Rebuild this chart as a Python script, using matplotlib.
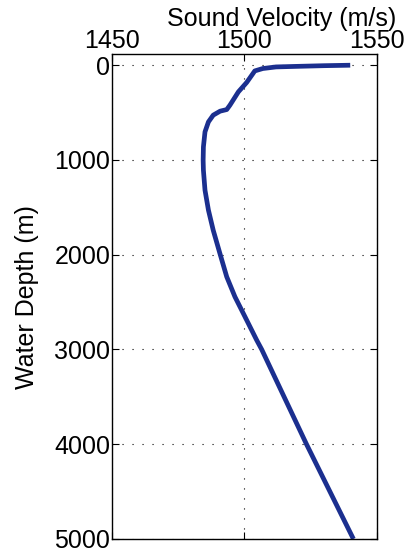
import numpy as np
import matplotlib
matplotlib.use("Agg")
import matplotlib.pyplot as plt

plt.rcParams['font.family'] = ['Liberation Sans', 'DejaVu Sans']

# sound velocity profile
depth = [0, 5, 12, 18, 35, 60, 183, 281, 422, 468, 485, 527, 598, 703, 862,
         1002, 1108, 1319, 1530, 1741, 1994, 2233, 2444, 2655, 2901, 3000,
         4000, 5000]
velocity = [1540.0, 1530.0, 1520.0, 1512.0, 1507.0, 1504.0, 1500.9, 1497.8,
            1494.6, 1493.4, 1490.9, 1488.3, 1486.5, 1485.2, 1484.6,
            1484.5, 1484.6, 1485.2, 1486.5, 1488.3, 1490.9, 1493.4, 1496.5,
            1500.3, 1504.7, 1506.6, 1523.5, 1541.2]

xticks = [1450, 1500, 1550]
yticks = [0, 1000, 2000, 3000, 4000, 5000]

fig = plt.figure(figsize=(4.07, 5.56), dpi=100)
ax = fig.add_axes([0.2745, 0.0306, 0.6511, 0.8717])

ax.plot(velocity, depth, color='#1b2f8f', lw=3.4, solid_capstyle='butt')

ax.set_xlim(1450, 1550)
ax.set_ylim(5000, -115)
ax.set_xticks(xticks)
ax.set_yticks(yticks)
ax.xaxis.tick_top()
ax.xaxis.set_label_position('top')
ax.tick_params(direction='in', length=5, labelsize=18, top=True, bottom=True,
               left=True, right=True, pad=1)
ax.grid(True, color='black', linestyle=(0, (1, 8)), lw=0.8)
for s in ax.spines.values():
    s.set_linewidth(1.0)

ax.set_xlabel('Sound Velocity (m/s)', fontsize=18)
ax.xaxis.set_label_coords(0.643, 1.059)
ax.set_ylabel('Water Depth (m)', fontsize=18, va='center')
ax.yaxis.set_label_coords(-0.32, 0.5)

fig.savefig('out.png', dpi=100)
